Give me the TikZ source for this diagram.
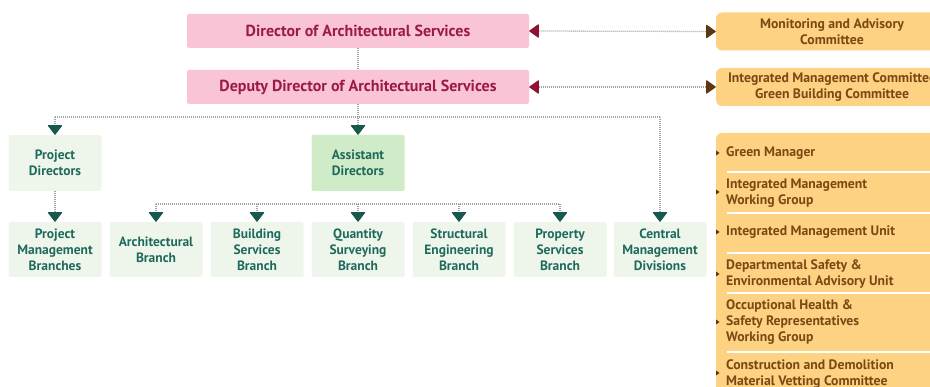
\documentclass[tikz,border=0pt]{standalone}
\usepackage{fontspec}
\setmainfont{PT Sans}
\usetikzlibrary{arrows.meta}

\definecolor{pinkbox}{HTML}{F9C4D5}
\definecolor{pinktext}{HTML}{9C1A45}
\definecolor{orangebox}{HTML}{FDD282}
\definecolor{browntext}{HTML}{7A4913}
\definecolor{greenbox}{HTML}{EEF6EC}
\definecolor{asstbox}{HTML}{CFEBC8}
\definecolor{greentext}{HTML}{1F6A5C}
\definecolor{tealtip}{HTML}{17594C}
\definecolor{dotgray}{HTML}{A3A3A3}
\definecolor{redtip}{HTML}{8E1234}
\definecolor{browntip}{HTML}{5E3711}

\begin{document}
\begin{tikzpicture}[x=1pt,y=-1pt,
  every node/.style={font=\bfseries\fontsize{13.7}{16}\selectfont, inner sep=0pt},
  lead/.style={fill=pinkbox, text=pinktext, rounded corners=1.5pt,
    minimum width=342pt, minimum height=34pt, font=\bfseries\fontsize{16}{16}\selectfont},
  committee/.style={fill=orangebox, text=browntext, rounded corners=6pt,
    minimum width=232pt, minimum height=38pt, align=center},
  unit/.style={fill=greenbox, text=greentext, rounded corners=1.5pt,
    minimum width=93pt, minimum height=55pt, align=center,
    font=\bfseries\fontsize{13.5}{16}\selectfont},
  item/.style={anchor=west, text=browntext, align=left},
  link/.style={draw=dotgray, line width=1.3pt, dash pattern=on 1pt off 1pt},
  down/.style={link, -{Triangle[width=15pt, length=10pt, round, line width=1pt, color=tealtip]}},
  both/.style={link, {Triangle[width=14pt, length=10pt, round, line width=1pt, color=redtip]}-{Triangle[width=14pt, length=10pt, round, line width=1pt, color=browntip]}}
]
  \useasboundingbox (0,0) rectangle (930,387);

  % Directors
  \node[lead] (dir) at (358,31) {Director of Architectural Services};
  \node[lead] (dep) at (358,87) {Deputy Director of Architectural Services};

  % Committees
  \node[committee] (mon) at (832,31.5) {Monitoring and Advisory\\Committee};
  \node[committee] (imc) at (832,87) {Integrated Management Committee\\Green Building Committee};
  \draw[both] (dir.east) -- (mon.west);
  \draw[both] (dep.east) -- (imc.west);

  % Units
  \node[unit, minimum height=56pt] (pd) at (55,163) {Project\\Directors};
  \node[unit, minimum height=56pt, fill=asstbox] (asst) at (358,163) {Assistant\\Directors};
  \node[unit] (pmb) at (55,249.5) {Project\\Management\\Branches};
  \node[unit] (arch) at (156,249.5) {Architectural\\Branch};
  \node[unit] (bs) at (257,249.5) {Building\\Services\\Branch};
  \node[unit] (qs) at (358,249.5) {Quantity\\Surveying\\Branch};
  \node[unit] (se) at (459,249.5) {Structural\\Engineering\\Branch};
  \node[unit] (ps) at (560,249.5) {Property\\Services\\Branch};
  \node[unit] (cmd) at (660,249.5) {Central\\Management\\Divisions};

  % Connectors
  \coordinate (busL) at (55,117);
  \coordinate (busR) at (660,117);
  \coordinate (subL) at (156,204);
  \coordinate (subR) at (560,204);
  \draw[link] (dir) -- (dep);
  \draw[link] (busL) -- (busR);
  \draw[down] (dep) -- (asst);
  \draw[down] (busL) -- (pd.north);
  \draw[down] (busR) -- (cmd.north);
  \draw[down] (pd) -- (pmb);
  \draw[link] (subL) -- (subR);
  \foreach \n in {arch,bs,qs,se,ps}
    \draw[down] (\n.north |- subL) -- (\n.north);

  % Panel of groups
  \fill[orangebox, rounded corners=6pt] (716,133) rectangle (960,410);
  \foreach \y in {172,213,253,293,352}
    \draw[white, line width=1.2pt] (727,\y) -- (930,\y);
  \foreach \y in {153,192,232,274,322,373}
    \fill[browntip] (716,\y-2.5) -- (719.5,\y) -- (716,\y+2.5) -- cycle;
  \node[item] (gm) at (726,153) {Green Manager};
  \node[item] (imwg) at (726,193) {Integrated Management\\Working Group};
  \node[item] (imu) at (726,232) {Integrated Management Unit};
  \node[item] (dse) at (726,274) {Departmental Safety \&\\Environmental Advisory Unit};
  \node[item] (ohs) at (726,322) {Occuptional Health \&\\Safety Representatives\\Working Group};
  \node[item] (cdm) at (726,374) {Construction and Demolition\\Material Vetting Committee};
\end{tikzpicture}
\end{document}
